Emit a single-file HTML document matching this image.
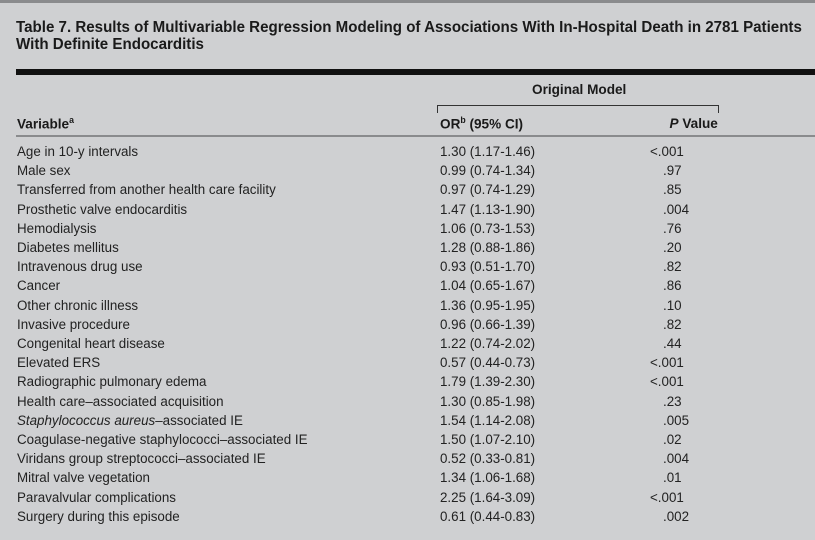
<!DOCTYPE html>
<html><head><meta charset="utf-8"><style>
body{margin:0;width:815px;height:540px;background:#cfd0d2;overflow:hidden;font-family:"Liberation Sans",sans-serif;color:#222;position:relative}
.t{position:absolute;white-space:nowrap;transform-origin:0 0;transform:scaleX(0.97)}
.r{position:absolute;white-space:nowrap;transform-origin:100% 0;transform:scaleX(0.97);text-align:right}
.title{font-weight:bold;font-size:15.5px;color:#1a1a1a}
.row{font-size:13.5px;transform:scaleX(0.99)}
</style></head><body>
<div style="position:absolute;left:0;top:0;width:815px;height:3px;background:#8a8b8d"></div>
<div class="t title" style="left:16px;top:19px;transform:scaleX(0.975)">Table 7. Results of Multivariable Regression Modeling of Associations With In-Hospital Death in 2781 Patients</div>
<div class="t title" style="left:16px;top:36px;transform:scaleX(0.975)">With Definite Endocarditis</div>
<div style="position:absolute;left:16px;top:69px;width:799px;height:6px;background:#111"></div>
<div class="t title" style="left:532px;top:81px;font-size:14px">Original Model</div>
<div style="position:absolute;left:437px;top:105px;width:282px;height:1px;background:#333"></div>
<div style="position:absolute;left:437px;top:105px;width:1px;height:8px;background:#333"></div>
<div style="position:absolute;left:718px;top:105px;width:1px;height:8px;background:#333"></div>
<div class="t title" style="left:17px;top:115px;font-size:14px">Variable<sup style="font-size:9px">a</sup></div>
<div class="t title" style="left:440px;top:115px;font-size:14px">OR<sup style="font-size:9px">b</sup> (95% CI)</div>
<div class="r title" style="right:97px;top:115px;font-size:14px"><i>P</i> Value</div>
<div style="position:absolute;left:16px;top:135px;width:799px;height:2px;background:#8a8b8d"></div>
<div id="rows"></div>
<script>
var d=[["Age in 10-y intervals","1.30 (1.17-1.46)","&lt;.001"],["Male sex","0.99 (0.74-1.34)",".97"],["Transferred from another health care facility","0.97 (0.74-1.29)",".85"],["Prosthetic valve endocarditis","1.47 (1.13-1.90)",".004"],["Hemodialysis","1.06 (0.73-1.53)",".76"],["Diabetes mellitus","1.28 (0.88-1.86)",".20"],["Intravenous drug use","0.93 (0.51-1.70)",".82"],["Cancer","1.04 (0.65-1.67)",".86"],["Other chronic illness","1.36 (0.95-1.95)",".10"],["Invasive procedure","0.96 (0.66-1.39)",".82"],["Congenital heart disease","1.22 (0.74-2.02)",".44"],["Elevated ERS","0.57 (0.44-0.73)","&lt;.001"],["Radiographic pulmonary edema","1.79 (1.39-2.30)","&lt;.001"],["Health care–associated acquisition","1.30 (0.85-1.98)",".23"],["<i>Staphylococcus aureus</i>–associated IE","1.54 (1.14-2.08)",".005"],["Coagulase-negative staphylococci–associated IE","1.50 (1.07-2.10)",".02"],["Viridans group streptococci–associated IE","0.52 (0.33-0.81)",".004"],["Mitral valve vegetation","1.34 (1.06-1.68)",".01"],["Paravalvular complications","2.25 (1.64-3.09)","&lt;.001"],["Surgery during this episode","0.61 (0.44-0.83)",".002"]];
var h="";d.forEach(function(r,i){var y=144+i*19.2;
h+='<div class="t row" style="left:17px;top:'+y+'px">'+r[0]+'</div><div class="t row" style="left:440px;top:'+y+'px">'+r[1]+'</div><div class="t row" style="left:'+(r[2].indexOf("lt")>0?650:663)+'px;top:'+y+'px">'+r[2]+'</div>';});
document.getElementById("rows").innerHTML=h;
</script>
</body></html>
